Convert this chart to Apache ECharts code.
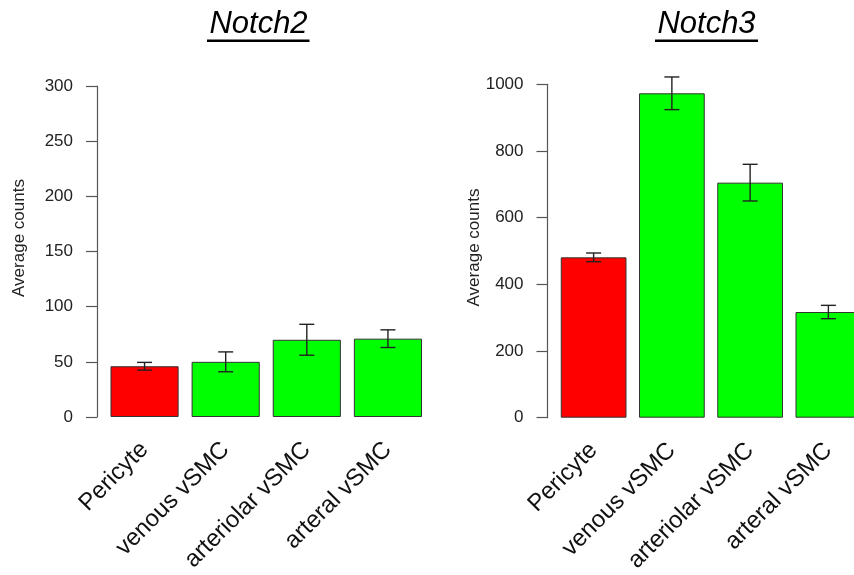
<!DOCTYPE html>
<html>
<head>
<meta charset="utf-8">
<script src="https://cdn.jsdelivr.net/npm/echarts@6/dist/echarts.min.js"></script>
<style>html,body{margin:0;padding:0;background:#fff}#c{width:854px;height:575px}</style>
</head>
<body>
<div id="c"></div>
<script>
const categories = ['Pericyte', 'venous vSMC', 'arteriolar vSMC', 'arteral vSMC'];
const barColors = ['#FF0000', '#00FF00', '#00FF00', '#00FF00'];
const notch2Mean = [46, 50, 70, 71];
const notch2Err = [3.5, 9, 14, 8];
const notch3Mean = [481, 973, 705, 317];
const notch3Err = [13, 49, 55, 20];
const notch2Ticks = {min: 0, max: 300, interval: 50};
const notch3Ticks = {min: 0, max: 1000, interval: 200};

const FONT = '"Liberation Sans", Arial, Helvetica, sans-serif';
const chart = echarts.init(document.getElementById('c'), null, {renderer: 'canvas'});

function xAxisFor(gi) {
  return {
    type: 'category', gridIndex: gi, data: categories,
    axisLine: {show: false}, axisTick: {show: false},
    axisLabel: {rotate: 45, fontSize: 24, fontFamily: FONT, color: '#111', margin: 29, interval: 0}
  };
}
function yAxisFor(gi, t) {
  return {
    type: 'value', gridIndex: gi, min: t.min, max: t.max, interval: t.interval,
    offset: 7,
    splitLine: {show: false},
    axisLine: {show: true, lineStyle: {color: '#555', width: 1.2}},
    axisTick: {show: true, length: 11, lineStyle: {color: '#555', width: 1.2}},
    axisLabel: {fontSize: 17, fontFamily: FONT, color: '#222', margin: 24, formatter: v => String(v)}
  };
}
function barSeries(gi, means) {
  return {
    type: 'bar', xAxisIndex: gi, yAxisIndex: gi, barCategoryGap: '16%',
    data: means.map((v, i) => ({value: v, itemStyle: {color: barColors[i]}})),
    itemStyle: {borderColor: '#333', borderWidth: 1},
    animation: false, z: 2
  };
}
function errSeries(gi, means, errs) {
  return {
    type: 'custom', xAxisIndex: gi, yAxisIndex: gi, z: 5, animation: false,
    data: means.map((m, i) => [i, m, errs[i]]),
    encode: {x: 0, y: 1},
    clip: false,
    renderItem: function (params, api) {
      const x = api.value(0), m = api.value(1), e = api.value(2);
      const top = api.coord([x, m + e]);
      const bot = api.coord([x, m - e]);
      const hw = 7.5;
      const st = {stroke: '#222', lineWidth: 1.4};
      return {
        type: 'group', children: [
          {type: 'line', shape: {x1: top[0], y1: top[1], x2: bot[0], y2: bot[1]}, style: st},
          {type: 'line', shape: {x1: top[0] - hw, y1: top[1], x2: top[0] + hw, y2: top[1]}, style: st},
          {type: 'line', shape: {x1: bot[0] - hw, y1: bot[1], x2: bot[0] + hw, y2: bot[1]}, style: st}
        ]
      };
    }
  };
}

const option = {
  backgroundColor: '#fff',
  animation: false,
  grid: [
    {left: 104, width: 324.5, top: 86, height: 331, containLabel: false, outerBoundsMode: 'none'},
    {left: 554.5, width: 313, top: 84.3, height: 333.4, containLabel: false, outerBoundsMode: 'none'}
  ],
  xAxis: [xAxisFor(0), xAxisFor(1)],
  yAxis: [yAxisFor(0, notch2Ticks), yAxisFor(1, notch3Ticks)],
  series: [
    barSeries(0, notch2Mean), errSeries(0, notch2Mean, notch2Err),
    barSeries(1, notch3Mean), errSeries(1, notch3Mean, notch3Err)
  ],
  graphic: [
    {type: 'text', x: 258.5, y: 24, style: {text: 'Notch2', font: 'italic 31px ' + FONT, fill: '#000', textAlign: 'center', textVerticalAlign: 'middle'}},
    {type: 'line', shape: {x1: 207, y1: 40.7, x2: 309.5, y2: 40.7}, style: {stroke: '#000', lineWidth: 2.5}},
    {type: 'text', x: 706.5, y: 24, style: {text: 'Notch3', font: 'italic 31px ' + FONT, fill: '#000', textAlign: 'center', textVerticalAlign: 'middle'}},
    {type: 'line', shape: {x1: 655, y1: 40.7, x2: 758, y2: 40.7}, style: {stroke: '#000', lineWidth: 2.5}},
    {type: 'text', x: 19, y: 238, rotation: Math.PI / 2, style: {text: 'Average counts', font: '17px ' + FONT, fill: '#222', textAlign: 'center', textVerticalAlign: 'middle'}},
    {type: 'text', x: 474, y: 247.5, rotation: Math.PI / 2, style: {text: 'Average counts', font: '17px ' + FONT, fill: '#222', textAlign: 'center', textVerticalAlign: 'middle'}}
  ]
};
chart.setOption(option);
</script>
</body>
</html>
